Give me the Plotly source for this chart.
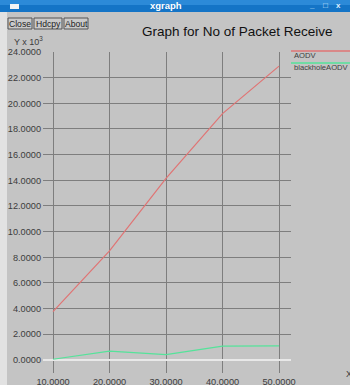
import plotly.graph_objects as go

# Packet counts received (in thousands) versus x
x_values = [10, 20, 30, 40, 50]
aodv = [3.76, 8.5, 14.15, 19.2, 22.9]
blackhole_aodv = [0.05, 0.68, 0.42, 1.07, 1.09]
series_names = ["AODV", "blackholeAODV"]
series_colors = ["#e07474", "#55e39a"]

W, H = 350, 385
L, R, T, B = 43, 59, 52, 12
PW, PH = W - L - R, H - T - B
BG = "#c4c4c4"


def px(xp):
    return (xp - L) / PW


def py(yp):
    return (H - B - yp) / PH


fig = go.Figure()
for name, ys, col in zip(series_names, [aodv, blackhole_aodv], series_colors):
    fig.add_trace(go.Scatter(x=x_values, y=ys, mode="lines", name=name,
                             line=dict(color=col, width=1.2), showlegend=False))

tick_font = dict(family="Liberation Sans, Arial, sans-serif", size=9.2, color="#3c3c3c")

fig.update_layout(
    width=W, height=H,
    margin=dict(l=L, r=R, t=T, b=B, pad=0, autoexpand=False),
    paper_bgcolor=BG, plot_bgcolor=BG,
    xaxis=dict(range=[8.23, 52.12], tickvals=x_values, tickformat=".4f",
               showgrid=True, gridcolor="#7e7e7e", gridwidth=1.2,
               zeroline=False, showline=False, ticks="", automargin=False,
               tickfont=tick_font, ticklabelstandoff=2, fixedrange=True),
    yaxis=dict(range=[-1.02, 24], tick0=0, dtick=2, tickformat=".4f",
               showgrid=True, gridcolor="#7e7e7e", gridwidth=1.2,
               zeroline=True, zerolinecolor="#e8e8e8", zerolinewidth=1.6,
               showline=False, ticks="", tickfont=tick_font, automargin=False,
               ticklabelstandoff=1, fixedrange=True),
    font=dict(family="Liberation Sans, Arial, sans-serif"),
)

shapes = []
annotations = []

# light strip along the left window edge
shapes.append(dict(type="rect", xref="paper", yref="paper", layer="above",
                   x0=px(0), x1=px(7), y0=py(H), y1=py(12),
                   fillcolor="#e2e2e2", line=dict(width=0)))

# window title bar (two-tone blue)
shapes.append(dict(type="rect", xref="paper", yref="paper", layer="above",
                   x0=px(0), x1=px(W), y0=py(12), y1=py(0),
                   fillcolor="#1474c6", line=dict(width=0)))
shapes.append(dict(type="rect", xref="paper", yref="paper", layer="above",
                   x0=px(0), x1=px(W), y0=py(5), y1=py(0),
                   fillcolor="#2c8ad8", line=dict(width=0)))
# window icon
shapes.append(dict(type="rect", xref="paper", yref="paper", layer="above",
                   x0=px(10), x1=px(19), y0=py(9), y1=py(4),
                   fillcolor="#f4f4f4", line=dict(width=0)))
annotations.append(dict(text="<b>xgraph</b>", x=px(166), y=py(6), xref="paper", yref="paper",
                        showarrow=False, xanchor="center", yanchor="middle",
                        font=dict(size=9.5, color="white")))
# window control glyphs
for gx, g in [(312, "_"), (325, "\u25a1"), (338, "x")]:
    annotations.append(dict(text="<b>%s</b>" % g, x=px(gx), y=py(6), xref="paper", yref="paper",
                            showarrow=False, xanchor="center", yanchor="middle",
                            font=dict(size=8, color="#dfefff")))

# control buttons
for label, x0, x1 in [("Close", 8, 32), ("Hdcpy", 34, 62), ("About", 64, 88)]:
    shapes.append(dict(type="rect", xref="paper", yref="paper", layer="above",
                       x0=px(x0), x1=px(x1), y0=py(29), y1=py(18),
                       fillcolor="#cacaca", line=dict(color="#555555", width=1)))
    annotations.append(dict(text=label, x=px((x0 + x1) / 2), y=py(23.5), xref="paper", yref="paper",
                            showarrow=False, xanchor="center", yanchor="middle",
                            font=dict(size=8.6, color="#222222")))

# chart title
annotations.append(dict(text="Graph for No of Packet Receive", x=px(237), y=py(31),
                        xref="paper", yref="paper", showarrow=False,
                        xanchor="center", yanchor="middle",
                        font=dict(size=13.5, color="#111111")))

# axis unit labels
annotations.append(dict(text="Y x 10<sup>3</sup>", x=px(12), y=py(41), xref="paper", yref="paper",
                        showarrow=False, xanchor="left", yanchor="middle",
                        font=dict(size=9, color="#3c3c3c")))
annotations.append(dict(text="X", x=px(344), y=py(374), xref="paper", yref="paper",
                        showarrow=False, xanchor="left", yanchor="middle",
                        font=dict(size=9, color="#3c3c3c")))

# legend entries
for i, (name, col) in enumerate(zip(series_names, series_colors)):
    ly = 51 + 12 * i
    shapes.append(dict(type="line", xref="paper", yref="paper", layer="above",
                       x0=px(291), x1=px(W), y0=py(ly), y1=py(ly),
                       line=dict(color=col, width=1.6)))
    annotations.append(dict(text=name, x=px(292), y=py(ly + 4.5), xref="paper", yref="paper",
                            showarrow=False, xanchor="left", yanchor="middle",
                            font=dict(size=7.6, color="#3c3c3c")))

fig.update_layout(shapes=shapes, annotations=annotations)
fig.write_html("out.html", config={"displayModeBar": False})
